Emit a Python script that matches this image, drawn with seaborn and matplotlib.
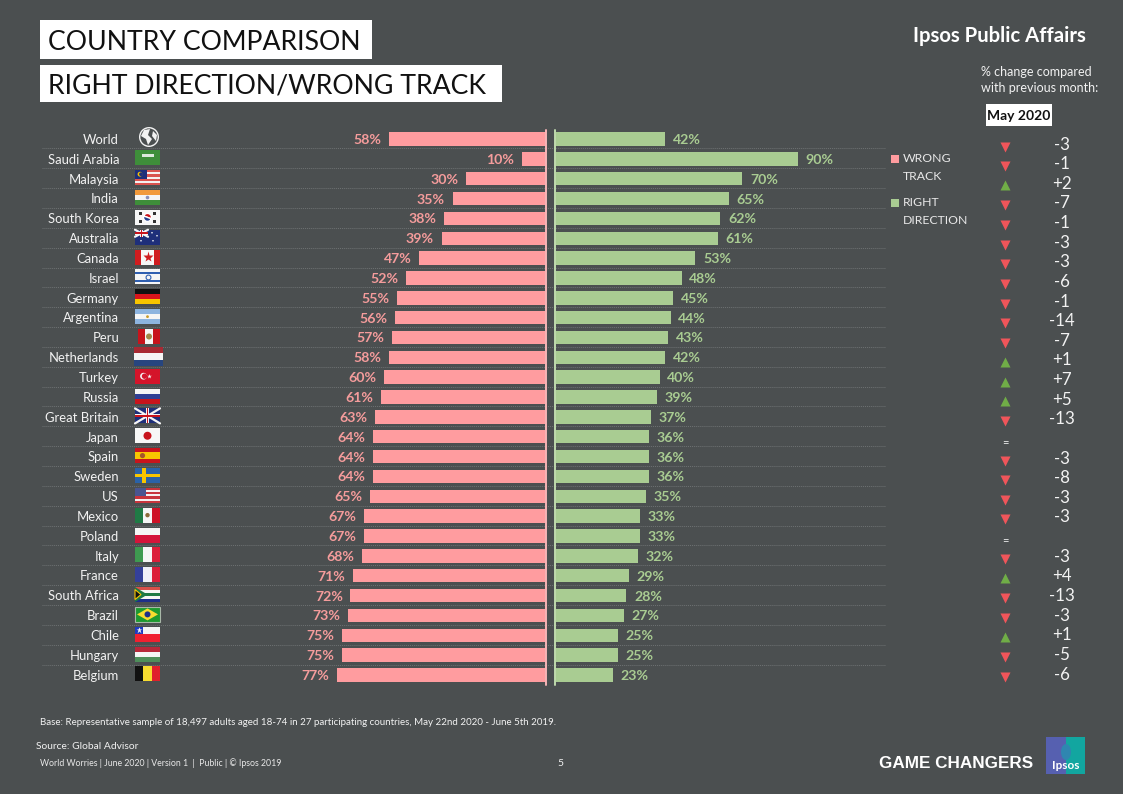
import numpy as np
import pandas as pd
import matplotlib
matplotlib.use('Agg')
import matplotlib.pyplot as plt
import matplotlib.patches as mpatches
import seaborn as sns

# dados
countries = ['World', 'Saudi Arabia', 'Malaysia', 'India', 'South Korea', 'Australia', 'Canada',
             'Israel', 'Germany', 'Argentina', 'Peru', 'Netherlands', 'Turkey', 'Russia',
             'Great Britain', 'Japan', 'Spain', 'Sweden', 'US', 'Mexico', 'Poland', 'Italy',
             'France', 'South Africa', 'Brazil', 'Chile', 'Hungary', 'Belgium']
wrong_track = [58, 10, 30, 35, 38, 39, 47, 52, 55, 56, 57, 58, 60, 61, 63, 64, 64, 64, 65, 67, 67,
               68, 71, 72, 73, 75, 75, 77]
right_direction = [42, 90, 70, 65, 62, 61, 53, 48, 45, 44, 43, 42, 40, 39, 37, 36, 36, 36, 35, 33,
                   33, 32, 29, 28, 27, 25, 25, 23]
changes = ['-3', '-1', '+2', '-7', '-1', '-3', '-3', '-6', '-1', '-14', '-7', '+1', '+7', '+5',
           '-13', '=', '-3', '-8', '-3', '-3', '=', '-3', '+4', '-13', '-3', '+1', '-5', '-6']

BG = '#4B4F50'
PINK = '#FF9C9F'
GREEN = '#A9CC92'
PINK_TXT = '#F59C9C'
GREEN_TXT = '#A9CC92'
W, H = 1123, 794
ROW0, ROWSTEP = 139.0, 19.85

sns.set_theme(style='dark')
plt.rcParams['font.family'] = ['Lato', 'DejaVu Sans']

df = pd.DataFrame({'country': countries, 'wrong': wrong_track, 'right': right_direction})

fig = plt.figure(figsize=(W / 100, H / 100), dpi=100, facecolor=BG)


def px_axes(x0, x1, y0, y1):
    # eixo posicionado em pixels da figura
    return fig.add_axes([x0 / W, 1 - y1 / H, (x1 - x0) / W, (y1 - y0) / H])


# camada de fundo em pixels: textos, bandeiras, linhas
pg = px_axes(0, W, 0, H)
pg.set_xlim(0, W)
pg.set_ylim(H, 0)
pg.axis('off')

rows = [ROW0 + ROWSTEP * i for i in range(len(countries))]

# linhas pontilhadas entre as linhas
for y in rows[:-1]:
    pg.plot([42, 885], [y + ROWSTEP / 2 - 0.5] * 2, color='#6E7273', lw=0.7, ls=(0, (1, 1)), zorder=1)

# barras: as duas partem da mesma origem, escondida pelo vao central
top = ROW0 - ROWSTEP / 2
bot = ROW0 + ROWSTEP * 27.5
ORIGIN, PX_PER = 549.2, 2.76
ax_l = px_axes(ORIGIN - 100 * PX_PER, 546, top, bot)
ax_r = px_axes(555, ORIGIN + 100 * PX_PER, top, bot)
sns.barplot(data=df, y='country', x='wrong', color=PINK, saturation=1, width=0.68, linewidth=0, ax=ax_l)
sns.barplot(data=df, y='country', x='right', color=GREEN, saturation=1, width=0.68, linewidth=0, ax=ax_r)
ax_l.set_xlim(100, (ORIGIN - 546) / PX_PER)
ax_r.set_xlim((555 - ORIGIN) / PX_PER, 100)
for ax, txt_col in ((ax_l, PINK_TXT), (ax_r, GREEN_TXT)):
    ax.set_facecolor('none')
    ax.axis('off')
    labels = ax.bar_label(ax.containers[0], fmt='%d%%', padding=5.5, color=txt_col, fontsize=10.2, fontweight='bold')
    for lab in labels:
        lab.xyann = (lab.xyann[0], -0.7)

# divisoria central
div_l = fig.add_artist(plt.Line2D([546.3 / W] * 2, [1 - 130 / H, 1 - 685 / H], color='#F7B4B6', lw=1.4))
div_r = fig.add_artist(plt.Line2D([555.2 / W] * 2, [1 - 130 / H, 1 - 685 / H], color='#BFD9AD', lw=1.4))

# nomes dos paises
for name, y in zip(countries, rows):
    pg.text(119, y + 0.8, name, ha='right', va='center', color='#F2F2F2', fontsize=9.35)


def rect(x, y, w, h, c, z=3):
    pg.add_patch(mpatches.Rectangle((x, y), w, h, fc=c, ec='none', zorder=z))


def circ(x, y, r, c, z=4):
    pg.add_patch(mpatches.Circle((x, y), r, fc=c, ec='none', zorder=z))


# bandeiras simplificadas: orientacao e faixas
flags = {
    'Saudi Arabia': ('h', ['#3E8E3A']),
    'Malaysia': ('h', ['#D9534F', '#F4F0F0', '#D9534F', '#F4F0F0', '#D9534F', '#F4F0F0', '#D9534F']),
    'India': ('h', ['#F29A3C', '#F5F5F5', '#3E8E3A']),
    'South Korea': ('h', ['#F7F7F7']),
    'Australia': ('h', ['#1E2F7A']),
    'Canada': ('v', ['#D01C1F', '#F7F7F7', '#F7F7F7', '#D01C1F']),
    'Israel': ('h', ['#F5F5F5', '#2F5FB0', '#F5F5F5', '#F5F5F5', '#F5F5F5', '#2F5FB0', '#F5F5F5']),
    'Germany': ('h', ['#111111', '#D8141B', '#F8C500']),
    'Argentina': ('h', ['#8DB4DF', '#F5F5F5', '#8DB4DF']),
    'Peru': ('v', ['#C8141C', '#F5F5F5', '#C8141C']),
    'Netherlands': ('h', ['#A82A33', '#F5F5F5', '#27457F']),
    'Turkey': ('h', ['#D4142A']),
    'Russia': ('h', ['#F5F5F5', '#2F3F94', '#C8141C']),
    'Great Britain': ('h', ['#1E2F7A']),
    'Japan': ('h', ['#F7F7F7']),
    'Spain': ('h', ['#C8141C', '#F8C500', '#F8C500', '#C8141C']),
    'Sweden': ('h', ['#2A62A8']),
    'US': ('h', ['#C8343C', '#F4F0F0', '#C8343C', '#F4F0F0', '#C8343C', '#F4F0F0', '#C8343C']),
    'Mexico': ('v', ['#1F7A45', '#F5F5F5', '#CE1126']),
    'Poland': ('h', ['#F5F5F5', '#D4143A']),
    'Italy': ('v', ['#3E9A50', '#F5F5F5', '#DC1E3A']),
    'France': ('v', ['#34409A', '#F0F0F8', '#DC1E3A']),
    'South Africa': ('h', ['#D8504A', '#F5F5F5', '#1F7A45', '#F5F5F5', '#1E2F8A']),
    'Brazil': ('h', ['#1E9A30']),
    'Chile': ('h', ['#F5F5F5', '#F02030']),
    'Hungary': ('h', ['#B8283A', '#F5F5F5', '#4E8E5A']),
    'Belgium': ('v', ['#111111', '#F8DC30', '#E0202C']),
}
for name, y in zip(countries, rows):
    if name not in flags:
        continue
    orient, cols = flags[name]
    x0, fw, fh = 135, 25, 15
    if name == 'Peru':
        x0, fw = 138, 22
    if name == 'Netherlands':
        x0, fw, fh = 134, 29, 19
    y0 = y - 1 - fh / 2
    n = len(cols)
    for k, c in enumerate(cols):
        if orient == 'h':
            rect(x0, y0 + k * fh / n, fw, fh / n, c)
        else:
            rect(x0 + k * fw / n, y0, fw / n, fh, c)
    cy = y0 + fh / 2
    cx = x0 + fw / 2
    if name == 'Saudi Arabia':
        rect(cx - 6, cy - 4, 12, 3, '#DCE8DC', 4)
        rect(cx - 5, cy + 3, 10, 0.6, '#B8D0B8', 4)
    elif name == 'Malaysia':
        rect(x0, y0, 12, 8.5, '#1E2F7A', 4)
        circ(x0 + 5, y0 + 4, 2.4, '#F8C500', 5)
        circ(x0 + 6, y0 + 4, 1.9, '#1E2F7A', 6)
    elif name == 'India':
        circ(cx, cy, 1.8, '#8A8FB8', 4)
    elif name == 'South Korea':
        pg.add_patch(mpatches.Wedge((cx, cy), 4, 200, 20, fc='#C8141C', zorder=4))
        pg.add_patch(mpatches.Wedge((cx, cy), 4, 20, 200, fc='#1E3A8A', zorder=4))
        for dx, dy in ((-7, -4), (7, -4), (-7, 4), (7, 4)):
            rect(cx + dx - 1.5, cy + dy - 1.5, 3, 3, '#333333', 4)
    elif name in ('Australia', 'Great Britain'):
        ww = 13 if name == 'Australia' else fw
        hh = 7 if name == 'Australia' else fh
        pg.plot([x0, x0 + ww], [y0, y0 + hh], color='#F5F5F5', lw=1.6, zorder=4)
        pg.plot([x0, x0 + ww], [y0 + hh, y0], color='#F5F5F5', lw=1.6, zorder=4)
        rect(x0 + ww / 2 - 1.5, y0, 3, hh, '#F5F5F5', 4)
        rect(x0, y0 + hh / 2 - 1.5, ww, 3, '#F5F5F5', 4)
        rect(x0 + ww / 2 - 0.8, y0, 1.6, hh, '#C8141C', 5)
        rect(x0, y0 + hh / 2 - 0.8, ww, 1.6, '#C8141C', 5)
        if name == 'Australia':
            for dx, dy in ((6, 11), (17, 3), (22, 6), (18, 11)):
                circ(x0 + dx, y0 + dy, 0.8, '#F5F5F5', 4)
    elif name == 'Canada':
        pg.plot(cx, cy, marker='*', ms=8, color='#D01C1F', mec='none', zorder=4)
    elif name == 'Israel':
        pg.plot(cx, cy, marker='o', ms=3.5, mfc='none', mec='#2F5FB0', mew=0.8, zorder=4)
    elif name == 'Argentina':
        circ(cx, cy, 1.4, '#C89B2A')
    elif name == 'Peru':
        circ(cx, cy, 3, '#A08A4A')
    elif name == 'Turkey':
        circ(cx - 4, cy, 3.4, '#F5F5F5')
        circ(cx - 3, cy, 2.7, '#D4142A', 5)
        pg.plot(cx + 1, cy, marker='*', ms=3.5, color='#F5F5F5', mec='none', zorder=5)
    elif name == 'Japan':
        circ(cx, cy, 4, '#C8141C')
    elif name == 'Spain':
        circ(cx - 5, cy, 2.6, '#A5552A')
    elif name == 'Sweden':
        rect(x0 + 7, y0, 3.5, fh, '#F8C500', 4)
        rect(x0, cy - 1.7, fw, 3.4, '#F8C500', 4)
    elif name == 'US':
        rect(x0, y0, 11, 8, '#4A5590', 4)
    elif name == 'Mexico':
        circ(cx, cy, 2.2, '#8A6A3A')
    elif name == 'South Africa':
        pg.add_patch(mpatches.Polygon([(x0, y0), (cx, cy), (x0, y0 + fh)], fc='#1F7A45', ec='none', zorder=4))
        pg.add_patch(mpatches.Polygon([(x0, y0 + 2.5), (x0 + 6, cy), (x0, y0 + fh - 2.5)], fc='#111111', ec='#F8C500', lw=0.8, zorder=5))
    elif name == 'Brazil':
        pg.add_patch(mpatches.Polygon([(x0 + 2, cy), (cx, y0 + 1.5), (x0 + fw - 2, cy), (cx, y0 + fh - 1.5)], fc='#F8DC30', ec='none', zorder=4))
        circ(cx, cy, 3, '#1E2F8A', 5)
        pg.add_patch(mpatches.Rectangle((x0, y0), fw, fh, fc='none', ec='#A8B8A8', lw=0.8, zorder=6))
    elif name == 'Chile':
        rect(x0, y0, 8, fh / 2, '#1E3AC0', 4)
        pg.plot(x0 + 4, y0 + 3.7, marker='*', ms=4.5, color='#F5F5F5', mec='none', zorder=5)

# globo
circ(149, 137, 10, '#F2F2F2')
circ(149, 137, 8.6, BG, 5)
pg.add_patch(mpatches.Polygon([(144, 130), (150, 129), (148, 135), (152, 139), (148, 145), (146, 139), (141, 136)],
                              fc='#F2F2F2', ec='none', zorder=6))
pg.add_patch(mpatches.Polygon([(153, 131), (157, 135), (156, 141), (152, 136)], fc='#F2F2F2', ec='none', zorder=6))

# titulos
rect(40, 20, 332, 39, 'white', 2)
rect(40, 65, 462, 37, 'white', 2)
pg.text(48, 42, 'COUNTRY COMPARISON', ha='left', va='center', color='#111111', fontsize=19.2)
pg.text(48, 86, 'RIGHT DIRECTION/WRONG TRACK', ha='left', va='center', color='#111111', fontsize=19.2)

# topo direito
pg.text(1086, 36, 'Ipsos Public Affairs', ha='right', va='center', color='white', fontsize=14.6, fontweight='bold')
pg.text(981, 72.5, '% change compared', ha='left', va='center', color='#F2F2F2', fontsize=9)
pg.text(981, 88.5, 'with previous month:', ha='left', va='center', color='#F2F2F2', fontsize=9)
rect(986, 104, 66, 22, 'white', 2)
pg.text(1019, 116, 'May 2020', ha='center', va='center', color='#111111', fontsize=10, fontweight='bold')

# legenda
rect(891, 155, 8, 8, PINK)
rect(891, 199, 8, 8, GREEN)
pg.text(903, 159, 'WRONG', ha='left', va='center', color='#E8E8E8', fontsize=8.8)
pg.text(903, 176, 'TRACK', ha='left', va='center', color='#E8E8E8', fontsize=8.8)
pg.text(903, 203, 'RIGHT', ha='left', va='center', color='#E8E8E8', fontsize=8.8)
pg.text(903, 220, 'DIRECTION', ha='left', va='center', color='#E8E8E8', fontsize=8.8)

# coluna de variacao
for i, val in enumerate(changes):
    yt = 144.5 + 19.63 * i
    ym = 146.5 + 19.63 * i
    if val == '=':
        pg.text(1005.2, ym + 1.5, '=', ha='center', va='center', color='#F2F2F2', fontsize=8)
        continue
    if val.startswith('+'):
        pg.plot(1005, ym - 0.5, marker='^', ms=7, color='#70AD47', mec='none')
    else:
        pg.plot(1005, ym, marker='v', ms=7, color='#F0555A', mec='none')
    pg.text(1062, yt, val, ha='center', va='center', color='#F2F2F2', fontsize=12.2)

# rodape
pg.text(40, 722.5, 'Base: Representative sample of 18,497 adults aged 18-74 in 27 participating countries, May 22nd 2020 - June 5th 2019.',
        ha='left', va='center', color='#F2F2F2', fontsize=7.07)
pg.text(36, 746.5, 'Source: Global Advisor', ha='left', va='center', color='#F2F2F2', fontsize=7.4)
pg.text(40, 763.5, 'World Worries | June 2020 | Version 1  |  Public | © Ipsos 2019', ha='left', va='center', color='#E8E8E8', fontsize=6.35)
pg.text(560, 764, '5', ha='center', va='center', color='#F2F2F2', fontsize=7.4)

# logotipo
pg.text(879, 763, 'GAME CHANGERS', ha='left', va='center', color='white', fontsize=12.35, fontweight='bold', family='Liberation Sans')
rect(1046, 737, 20, 37, '#5660B0')
rect(1066, 737, 19, 37, '#12A6A0')
pg.add_patch(mpatches.Ellipse((1066, 752), 10, 16, fc='#2F86B0', ec='none', zorder=4))
pg.text(1065.5, 765.5, 'Ipsos', ha='center', va='center', color='white', fontsize=8.5, fontweight='bold', zorder=6)

fig.savefig('out.png', dpi=100, facecolor=BG)
